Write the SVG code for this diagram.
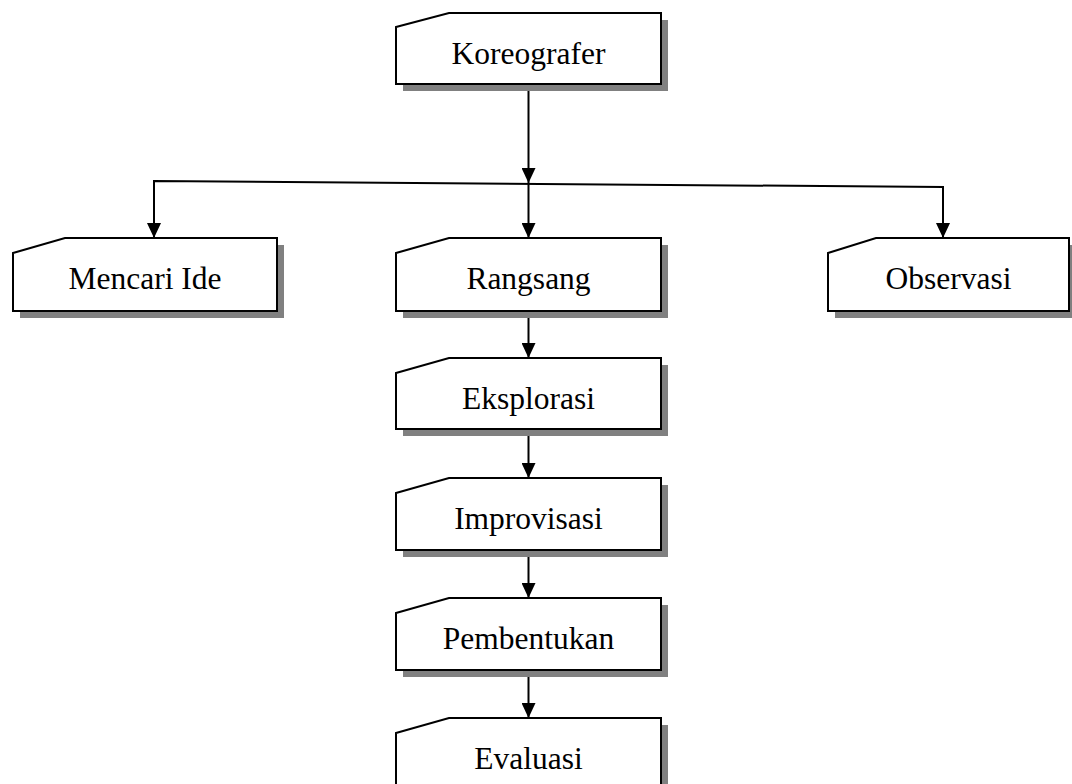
<svg xmlns="http://www.w3.org/2000/svg" width="1072" height="784" viewBox="0 0 1072 784">
<style>
.box{fill:#fff;stroke:#000;stroke-width:2}
.sh{fill:#808080}
.lbl{font-family:"Liberation Serif","Times New Roman",serif;font-size:31.5px;fill:#000;text-anchor:middle}
.ln{stroke:#000;stroke-width:2;fill:none}
</style>
<defs>
<marker id="ah" markerWidth="15" markerHeight="14" refX="15" refY="7" orient="auto" markerUnits="userSpaceOnUse" viewBox="0 0 15 14">
<path d="M0,0 L15,7 L0,14 Z" fill="#000"/>
</marker>
</defs>
<rect width="1072" height="784" fill="#fff"/>
<g id="connectors">
<line class="ln" x1="528.5" y1="84" x2="528.5" y2="183" marker-end="url(#ah)"/>
<polyline class="ln" points="154,238 154,181 943,187 943,238" fill="none"/>
<line class="ln" x1="154" y1="200" x2="154" y2="238" marker-end="url(#ah)"/>
<line class="ln" x1="943" y1="200" x2="943" y2="238" marker-end="url(#ah)"/>
<line class="ln" x1="528.5" y1="184" x2="528.5" y2="238" marker-end="url(#ah)"/>
<line class="ln" x1="528.5" y1="311" x2="528.5" y2="358" marker-end="url(#ah)"/>
<line class="ln" x1="528.5" y1="429" x2="528.5" y2="478" marker-end="url(#ah)"/>
<line class="ln" x1="528.5" y1="550" x2="528.5" y2="598" marker-end="url(#ah)"/>
<line class="ln" x1="528.5" y1="670" x2="528.5" y2="718" marker-end="url(#ah)"/>
</g>
<g id="koreografer">
<path class="sh" d="M403,34 L456,20 L668,20 L668,91 L403,91 Z"/>
<path class="box" d="M396,27 L449,13 L661,13 L661,84 L396,84 Z"/>
<text class="lbl" x="528.5" y="64">Koreografer</text>
</g>
<g id="mencari-ide">
<path class="sh" d="M20,260 L72,245 L284,245 L284,318 L20,318 Z"/>
<path class="box" d="M13,253 L65,238 L277,238 L277,311 L13,311 Z"/>
<text class="lbl" x="145" y="289">Mencari Ide</text>
</g>
<g id="rangsang">
<path class="sh" d="M403,260 L456,245 L668,245 L668,318 L403,318 Z"/>
<path class="box" d="M396,253 L449,238 L661,238 L661,311 L396,311 Z"/>
<text class="lbl" x="528.5" y="289">Rangsang</text>
</g>
<g id="observasi">
<path class="sh" d="M835,260 L883,245 L1076,245 L1076,318 L835,318 Z"/>
<path class="box" d="M828,253 L876,238 L1069,238 L1069,311 L828,311 Z"/>
<text class="lbl" x="948.5" y="289">Observasi</text>
</g>
<g id="eksplorasi">
<path class="sh" d="M403,380 L456,365 L668,365 L668,436 L403,436 Z"/>
<path class="box" d="M396,373 L449,358 L661,358 L661,429 L396,429 Z"/>
<text class="lbl" x="528.5" y="409">Eksplorasi</text>
</g>
<g id="improvisasi">
<path class="sh" d="M403,500 L456,485 L668,485 L668,557 L403,557 Z"/>
<path class="box" d="M396,493 L449,478 L661,478 L661,550 L396,550 Z"/>
<text class="lbl" x="528.5" y="529">Improvisasi</text>
</g>
<g id="pembentukan">
<path class="sh" d="M403,620 L456,605 L668,605 L668,677 L403,677 Z"/>
<path class="box" d="M396,613 L449,598 L661,598 L661,670 L396,670 Z"/>
<text class="lbl" x="528.5" y="649">Pembentukan</text>
</g>
<g id="evaluasi">
<path class="sh" d="M403,740 L456,725 L668,725 L668,797 L403,797 Z"/>
<path class="box" d="M396,733 L449,718 L661,718 L661,790 L396,790 Z"/>
<text class="lbl" x="528.5" y="769">Evaluasi</text>
</g>
</svg>
